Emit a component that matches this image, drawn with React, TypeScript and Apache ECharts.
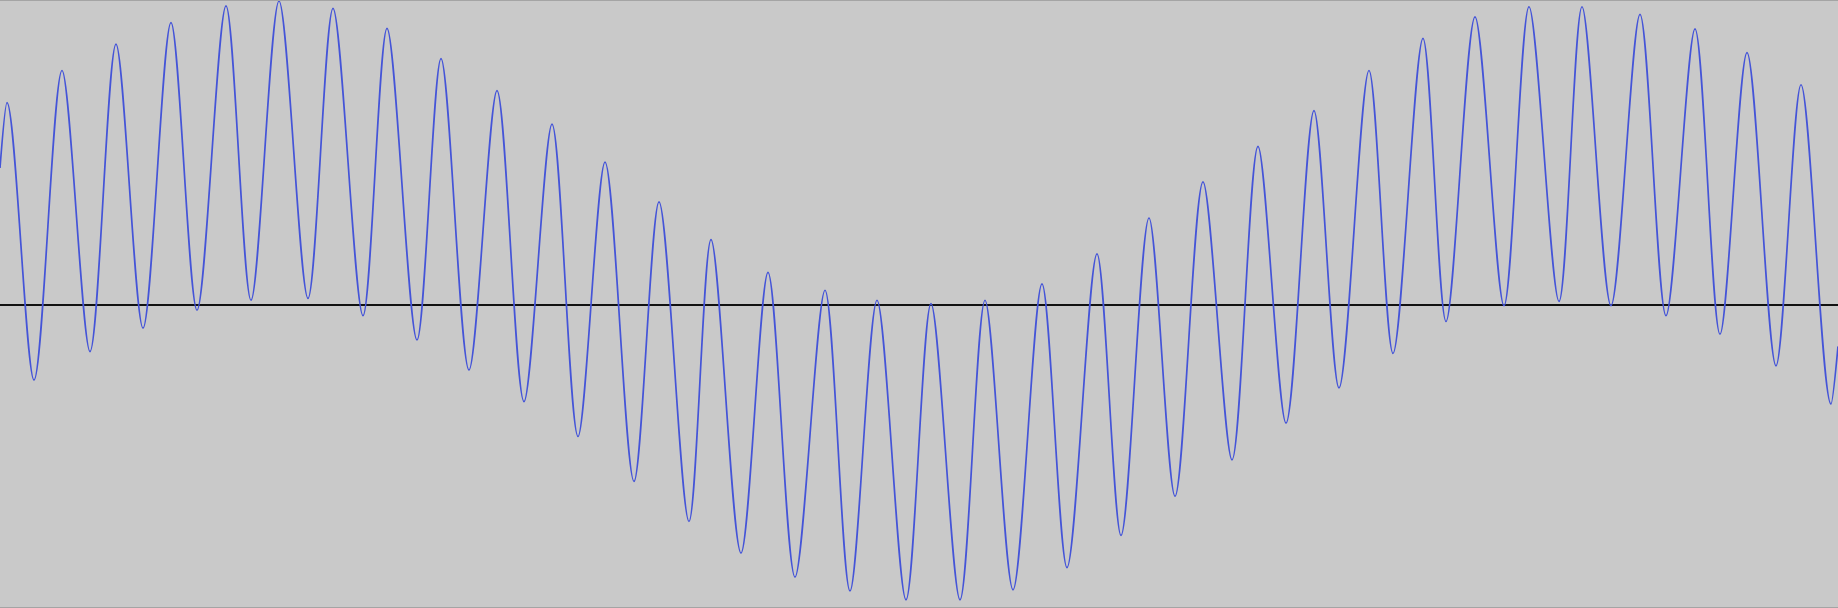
import React, { useEffect, useRef } from "react";
import * as echarts from "echarts";

// Waveform: time positions (track pixels) and amplitudes (-1..1)
const startPoint: [number, number] = [0, 0.45];
const endPoint: [number, number] = [1838, -0.138];

const peakT = [7, 62, 116, 171, 226, 279, 333, 387, 441, 497, 552, 605, 659, 711, 768, 825, 877, 931, 985, 1042, 1097, 1149, 1203, 1258, 1314, 1369, 1423, 1475, 1529, 1582, 1640, 1695, 1747, 1801];
const peakAmp = [0.665, 0.771, 0.858, 0.929, 0.984, 1.0, 0.976, 0.91, 0.81, 0.705, 0.594, 0.469, 0.338, 0.214, 0.106, 0.047, 0.014, 0.003, 0.014, 0.068, 0.167, 0.285, 0.404, 0.521, 0.639, 0.771, 0.877, 0.948, 0.981, 0.981, 0.956, 0.908, 0.83, 0.724];

const troughT = [34, 90, 143, 197, 251, 308, 363, 417, 469, 524, 578, 634, 689, 741, 795, 850, 906, 960, 1013, 1067, 1121, 1175, 1232, 1286, 1339, 1393, 1446, 1504, 1559, 1611, 1666, 1720, 1776, 1831];
const troughAmp = [-0.249, -0.155, -0.078, -0.019, 0.014, 0.02, -0.037, -0.117, -0.216, -0.32, -0.435, -0.583, -0.715, -0.819, -0.898, -0.944, -0.973, -0.973, -0.94, -0.867, -0.761, -0.632, -0.512, -0.391, -0.275, -0.161, -0.056, -0.004, 0.01, -0.004, -0.037, -0.098, -0.202, -0.328];

export default function App() {
  const ref = useRef<HTMLDivElement>(null);
  useEffect(() => {
    document.body.style.margin = "0";
    if (!ref.current) return;
    const chart = echarts.init(ref.current, undefined, { renderer: "svg" });
    const pts: [number, number][] = [startPoint];
    peakT.forEach((t, i) => pts.push([t, peakAmp[i]]));
    troughT.forEach((t, i) => pts.push([t, troughAmp[i]]));
    pts.push(endPoint);
    pts.sort((a, b) => a[0] - b[0]);
    chart.setOption({
      animation: false,
      backgroundColor: "#c9c9c9",
      grid: { left: 0, right: 0, top: 1, height: 608, containLabel: false },
      xAxis: {
        type: "value",
        min: 0,
        max: 1838,
        axisLine: { show: true, onZero: true, lineStyle: { color: "#111111", width: 2 } },
        axisTick: { show: false },
        axisLabel: { show: false },
        splitLine: { show: false },
      },
      yAxis: {
        type: "value",
        min: -1,
        max: 1,
        show: false,
        splitLine: { show: false },
      },
      graphic: [
        { type: "line", shape: { x1: 0, y1: 0.5, x2: 1838, y2: 0.5 }, style: { stroke: "#a4a4a4", lineWidth: 1 }, z: 100 },
        { type: "line", shape: { x1: 0, y1: 607.5, x2: 1838, y2: 607.5 }, style: { stroke: "#a4a4a4", lineWidth: 1 }, z: 100 },
      ],
      series: [
        {
          type: "line",
          data: pts,
          showSymbol: false,
          smooth: 0.3,
          clip: false,
          lineStyle: { color: "#4454d8", width: 1.7 },
        },
      ],
    });
    return () => chart.dispose();
  }, []);
  return <div ref={ref} style={{ width: 1838, height: 608 }} />;
}
